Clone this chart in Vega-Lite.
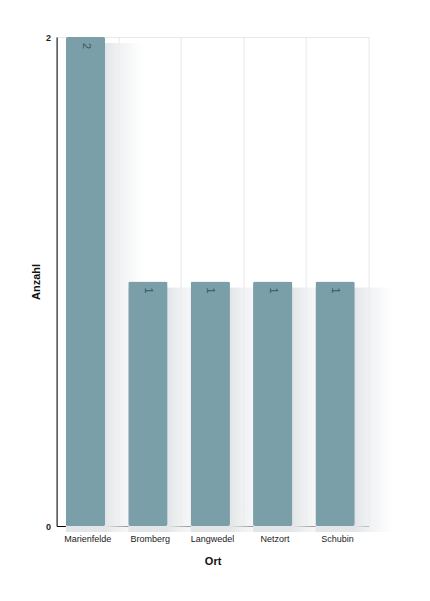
{
  "$schema": "https://vega.github.io/schema/vega-lite/v6.json",
  "width": 312,
  "height": 489,
  "autosize": {"type": "none"},
  "padding": {"left": 56.6, "top": 37, "right": 61.4, "bottom": 75},
  "background": "white",
  "data": {"values": [
    {"Ort": "Marienfelde", "Anzahl": 2},
    {"Ort": "Bromberg", "Anzahl": 1},
    {"Ort": "Langwedel", "Anzahl": 1},
    {"Ort": "Netzort", "Anzahl": 1},
    {"Ort": "Schubin", "Anzahl": 1}
  ]},
  "encoding": {
    "x": {"field": "Ort", "type": "nominal", "sort": null,
      "scale": {"paddingInner": 0, "paddingOuter": 0},
      "axis": {"title": "Ort", "labelAngle": 0, "grid": true, "bandPosition": 0, "gridColor": "#e8e8e8",
        "ticks": false, "domainColor": "#000", "labelFontSize": 9, "labelColor": "#222", "labelPadding": 8,
        "titleFontSize": 11, "titleFontWeight": "bold", "titlePadding": 12, "titleColor": "#111"}},
    "y": {"field": "Anzahl", "type": "quantitative",
      "scale": {"domain": [0, 2]},
      "axis": {"title": "Anzahl", "values": [0, 1, 2], "format": "d", "grid": true, "gridColor": "#e8e8e8",
        "ticks": false, "domainColor": "#000", "labelFontSize": 9, "labelFontWeight": "bold", "labelColor": "#222",
        "labelPadding": 6, "titleFontSize": 11, "titleFontWeight": "bold", "titlePadding": 4, "titleColor": "#111"}}
  },
  "layer": [
    {
      "mark": {"type": "bar", "width": {"band": 1.35}, "xOffset": 20.2, "yOffset": 6, "y2Offset": 0,
        "color": {"gradient": "linear", "x1": 0, "y1": 0, "x2": 1, "y2": 0,
          "stops": [
            {"offset": 0, "color": "#e3e6e8"},
            {"offset": 0.47, "color": "#e3e6e8"},
            {"offset": 0.75, "color": "rgba(240,242,243,0.6)"},
            {"offset": 1, "color": "rgba(255,255,255,0)"}
          ]}}
    },
    {
      "mark": {"type": "bar", "width": {"band": 0.63}, "xOffset": -2.3, "color": "#7a9fa8", "cornerRadius": 2}
    },
    {
      "mark": {"type": "text", "angle": 90, "baseline": "middle", "align": "left", "fontSize": 11,
        "color": "#3e555e", "xOffset": -2.3, "yOffset": 6, "font": "Liberation Sans"},
      "encoding": {"text": {"field": "Anzahl", "type": "quantitative"}}
    }
  ],
  "config": {
    "font": "Liberation Sans",
    "view": {"stroke": "#e8e8e8"}
  }
}
